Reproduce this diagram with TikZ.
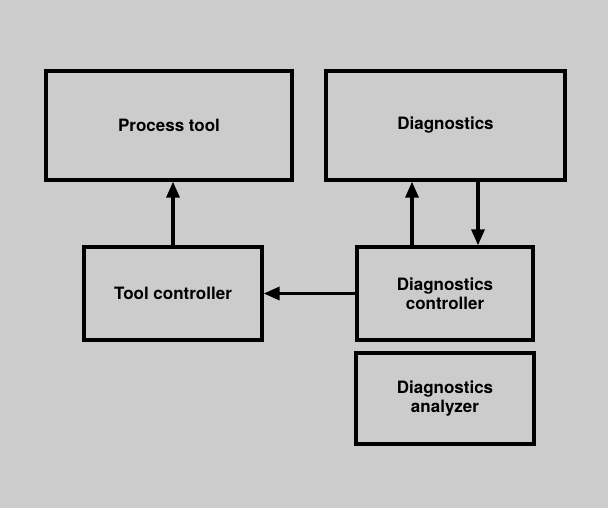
\documentclass[tikz,border=0pt]{standalone}
\usepackage{fontspec}
\setmainfont{TeX Gyre Heros}
\usetikzlibrary{arrows.meta}
\definecolor{bggray}{RGB}{204,204,204}
\begin{document}
\begin{tikzpicture}[x=1pt,y=-1pt,
  blockbox/.style={draw=black, line width=3.3pt, fill=bggray, inner sep=0pt,
    font=\fontsize{17}{19}\selectfont\bfseries, align=center},
  flow/.style={line width=3.3pt, -{Triangle[length=16pt,width=13pt]}}]
\fill[bggray] (0,0) rectangle (608,508);
\useasboundingbox (0,0) rectangle (608,508);
\node[blockbox, minimum width=246pt, minimum height=109pt] (proc) at (169,125.5) {Process tool};
\node[blockbox, minimum width=239pt, minimum height=109pt] (diag) at (445.5,125.5) {Diagnostics};
\node[blockbox, minimum width=178pt, minimum height=93pt] (tctl) at (173,293.5) {Tool controller};
\node[blockbox, minimum width=176pt, minimum height=93pt] (dctl) at (445,293.5) {Diagnostics\\controller};
\node[blockbox, minimum width=178pt, minimum height=91pt] (dana) at (445,398.5) {Diagnostics\\analyzer};
\draw[flow] (tctl.north) -- (tctl.north |- proc.south);
\draw[flow] ([xshift=-33pt]dctl.north) -- ([xshift=-33pt]dctl.north |- diag.south);
\draw[flow] ([xshift=33pt]dctl.north |- diag.south) -- ([xshift=33pt]dctl.north);
\draw[flow] (dctl.west) -- (tctl.east);
\end{tikzpicture}
\end{document}
